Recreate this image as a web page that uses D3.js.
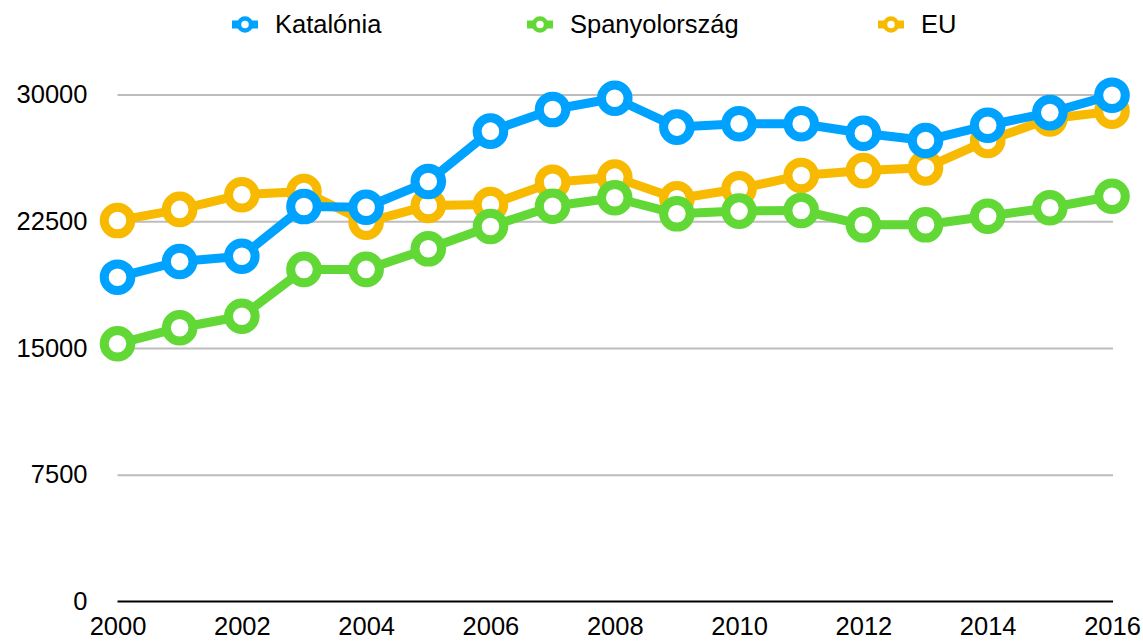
<!DOCTYPE html>
<html>
<head>
<meta charset="utf-8">
<script src="https://cdn.jsdelivr.net/npm/d3@7"></script>
<style>
  html, body { margin: 0; padding: 0; background: #fff; }
  svg { display: block; font-family: "Liberation Sans", Arial, Helvetica, sans-serif; }
</style>
</head>
<body>
<svg id="chart" width="1143" height="641"></svg>
<script>
const years = [2000, 2001, 2002, 2003, 2004, 2005, 2006, 2007, 2008, 2009, 2010, 2011, 2012, 2013, 2014, 2015, 2016];
const katalonia = [19190, 20120, 20430, 23370, 23330, 24850, 27830, 29110, 29780, 28070, 28270, 28270, 27710, 27280, 28180, 28930, 29960];
const spanyolorszag = [15250, 16200, 16880, 19650, 19650, 20870, 22190, 23390, 23890, 22940, 23100, 23140, 22290, 22290, 22800, 23300, 23980];
const eu = [22540, 23200, 24070, 24260, 22450, 23430, 23490, 24810, 25110, 23830, 24420, 25210, 25500, 25660, 27280, 28560, 29010];
const yTicks = [0, 7500, 15000, 22500, 30000];
const xTickYears = [2000, 2002, 2004, 2006, 2008, 2010, 2012, 2014, 2016];
const seriesNames = ["Katalónia", "Spanyolország", "EU"];
const seriesColors = ["#00A2FF", "#61D836", "#F8BA00"];

const series = [
  { name: seriesNames[0], color: seriesColors[0], values: katalonia },
  { name: seriesNames[1], color: seriesColors[1], values: spanyolorszag },
  { name: seriesNames[2], color: seriesColors[2], values: eu }
];

const svg = d3.select("#chart");
const x = d3.scaleLinear().domain([2000, 2016]).range([117.5, 1112]);
const y = d3.scaleLinear().domain([0, 30000]).range([601.5, 94.5]);
const fontSize = 25.5;

// gridlines
const yAxis = d3.axisLeft(y).tickValues(yTicks).tickSize(-(1113 - 117.5)).tickFormat(d3.format("d")).tickPadding(30);
const gy = svg.append("g").attr("transform", "translate(117.5,0)").call(yAxis);
gy.select(".domain").remove();
gy.selectAll(".tick line").attr("stroke", "#BDBDBD").attr("stroke-width", 2)
  .filter(d => d === 0).remove();
gy.selectAll(".tick text").attr("fill", "#000").attr("font-size", fontSize)
  .attr("font-family", "'Liberation Sans', Arial, sans-serif")
  .attr("x", -30).attr("dy", "0.32em");

// x axis
const xAxis = d3.axisBottom(x).tickValues(xTickYears).tickSize(0).tickFormat(d3.format("d")).tickPadding(0);
const gx = svg.append("g").attr("transform", "translate(0,601.5)").call(xAxis);
gx.select(".domain").remove();
gx.selectAll(".tick text").attr("fill", "#000").attr("font-size", fontSize)
  .attr("font-family", "'Liberation Sans', Arial, sans-serif")
  .attr("dy", null).attr("y", 33.5);
svg.append("line")
  .attr("x1", x(2000)).attr("x2", 1113)
  .attr("y1", y(0)).attr("y2", y(0))
  .attr("stroke", "#000").attr("stroke-width", 2.2);

// series: draw EU first, then Spain, then Catalonia on top
const line = d3.line().x((d, i) => x(years[i])).y(d => y(d));
const drawOrder = [series[2], series[1], series[0]];
drawOrder.forEach(s => {
  const g = svg.append("g");
  g.append("path")
    .attr("d", line(s.values))
    .attr("fill", "none")
    .attr("stroke", s.color)
    .attr("stroke-width", 9)
    .attr("stroke-linejoin", "round");
  g.selectAll("circle").data(s.values).join("circle")
    .attr("cx", (d, i) => x(years[i]))
    .attr("cy", d => y(d))
    .attr("r", 13.3)
    .attr("fill", "#fff")
    .attr("stroke", s.color)
    .attr("stroke-width", 9);
});

// legend
const legendX = [245, 540, 891];
const legend = svg.append("g");
series.forEach((s, i) => {
  const g = legend.append("g").attr("transform", `translate(${legendX[i]},24.5)`);
  g.append("line").attr("x1", -13).attr("x2", 13).attr("y1", 0).attr("y2", 0)
    .attr("stroke", s.color).attr("stroke-width", 8);
  g.append("circle").attr("r", 6).attr("fill", "#fff")
    .attr("stroke", s.color).attr("stroke-width", 4.5);
  g.append("text").attr("x", 30).attr("y", 0).attr("dy", "0.35em")
    .attr("font-size", fontSize).attr("fill", "#000").text(s.name);
});
</script>
</body>
</html>
